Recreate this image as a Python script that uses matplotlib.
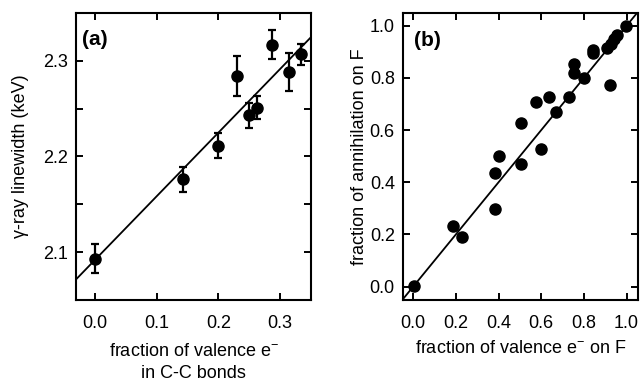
import matplotlib
matplotlib.use("Agg")
import matplotlib.pyplot as plt
import numpy as np

plt.rcParams['font.family'] = ['Liberation Sans', 'DejaVu Sans']
plt.rcParams['mathtext.fontset'] = 'custom'
plt.rcParams['mathtext.rm'] = 'Liberation Sans'

# panel (a): linewidth vs fraction of valence electrons in C-C bonds
cc_frac = [0.0, 0.143, 0.200, 0.230, 0.250, 0.263, 0.286, 0.315, 0.333]
linewidth = [2.093, 2.176, 2.211, 2.284, 2.243, 2.251, 2.317, 2.288, 2.307]
linewidth_err = [0.015, 0.013, 0.013, 0.021, 0.013, 0.012, 0.015, 0.020, 0.011]
fit_a = (0.665, 2.092)  # slope, intercept

# panel (b): annihilation fraction on F vs valence fraction on F
f_frac = [0.005, 0.185, 0.227, 0.383, 0.383, 0.403, 0.503, 0.503, 0.575, 0.597,
          0.635, 0.669, 0.730, 0.752, 0.755, 0.800, 0.842, 0.842, 0.910, 0.924,
          0.925, 0.940, 0.955, 0.996]
annih_f = [0.003, 0.234, 0.189, 0.298, 0.434, 0.501, 0.470, 0.626, 0.708, 0.528,
           0.727, 0.669, 0.727, 0.820, 0.852, 0.800, 0.894, 0.907, 0.915, 0.774,
           0.930, 0.950, 0.965, 1.000]
fit_b = (1.0, 0.0)

fig = plt.figure(figsize=(6.41, 3.82), dpi=100)
ax1 = fig.add_axes([0.1186, 0.215, 0.3666, 0.751])
ax2 = fig.add_axes([0.629, 0.215, 0.3668, 0.750])

def style(ax):
    for s in ax.spines.values():
        s.set_linewidth(1.5)
    ax.tick_params(direction='in', length=5, width=1.4, top=True, right=True,
                   labelsize=13, pad=6)
    ax.tick_params(axis='x', pad=11)

# (a)
xa = np.array([-0.031, 0.35])
ax1.plot(xa, fit_a[0] * xa + fit_a[1], color='black', lw=1.3)
ax1.errorbar(cc_frac, linewidth, yerr=linewidth_err, fmt='o', color='black',
             ms=8, elinewidth=1.6, capsize=3, capthick=1.6)
ax1.set_xlim(-0.031, 0.35)
ax1.set_ylim(2.05, 2.35)
ax1.set_xticks([0.0, 0.1, 0.2, 0.3])
ax1.set_yticks([2.1, 2.15, 2.2, 2.25, 2.3])
ax1.set_yticklabels(['2.1', '', '2.2', '', '2.3'])
ax1.set_xlabel('fraction of valence e$^{-}$\nin C-C bonds', fontsize=13,
               linespacing=1.35, labelpad=8)
ax1.set_ylabel('γ-ray linewidth (keV)', fontsize=13, labelpad=10)
ax1.text(0.025, 0.94, '(a)', transform=ax1.transAxes, fontsize=15,
         fontweight='bold', va='top')
style(ax1)

# (b)
xb = np.array([-0.047, 1.055])
ax2.plot(xb, fit_b[0] * xb + fit_b[1], color='black', lw=1.3)
ax2.plot(f_frac, annih_f, 'o', color='black', ms=8)
ax2.set_xlim(-0.047, 1.055)
ax2.set_ylim(-0.051, 1.0475)
ax2.set_xticks(np.arange(0, 1.01, 0.2))
ax2.set_yticks(np.arange(0, 1.01, 0.2))
ax2.set_xticklabels(['0.0', '0.2', '0.4', '0.6', '0.8', '1.0'])
ax2.set_yticklabels(['0.0', '0.2', '0.4', '0.6', '0.8', '1.0'])
ax2.set_xlabel('fraction of valence e$^{-}$ on F', fontsize=13, labelpad=6)
ax2.set_ylabel('fraction of annihilation on F', fontsize=13, labelpad=1)
ax2.text(0.045, 0.94, '(b)', transform=ax2.transAxes, fontsize=15,
         fontweight='bold', va='top')
style(ax2)

fig.savefig('out.png', dpi=100)
